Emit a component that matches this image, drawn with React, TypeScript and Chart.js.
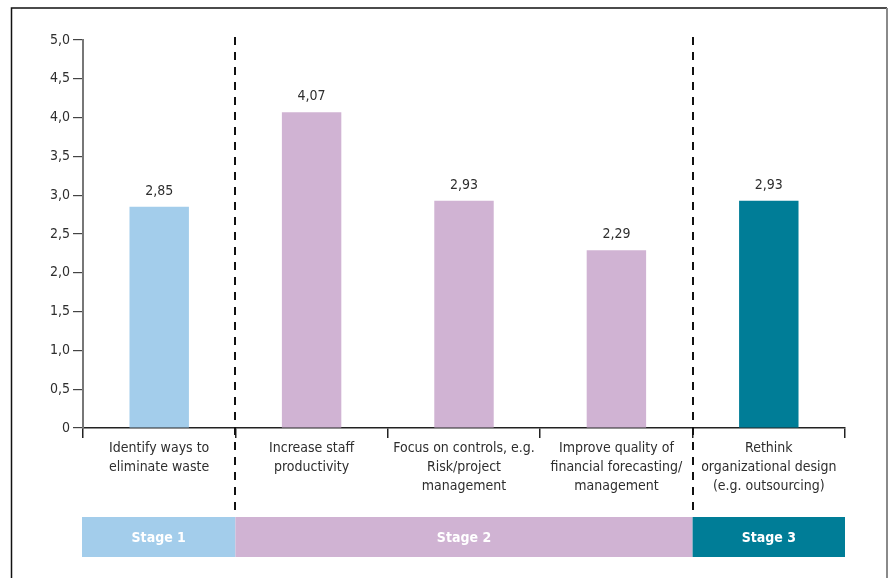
import React, { useEffect, useRef } from "react";
import { Chart, registerables } from "chart.js";

Chart.register(...registerables);

const categories: string[][] = [
  ["Identify ways to", "eliminate waste"],
  ["Increase staff", "productivity"],
  ["Focus on controls, e.g.", "Risk/project", "management"],
  ["Improve quality of", "financial forecasting/", "management"],
  ["Rethink", "organizational design", "(e.g. outsourcing)"],
];
const values = [2.85, 4.07, 2.93, 2.29, 2.93];
const categoryStage = [0, 1, 1, 1, 2];
const stageNames = ["Stage 1", "Stage 2", "Stage 3"];
const stageColors = ["#A3CDEB", "#D0B3D3", "#007D97"];
const yMin = 0;
const yMax = 5;
const yStep = 0.5;

const FONT = "'Liberation Sans Narrow', 'DejaVu Sans Condensed', sans-serif";
const TEXT = "#2e2e2e";

const fmt = (v: number, d: number) => (v === 0 ? "0" : v.toFixed(d).replace(".", ","));

const decorPlugin = {
  id: "decor",
  afterDraw(chart: any) {
    const ctx = chart.ctx as CanvasRenderingContext2D;
    const x = chart.scales.x;
    const y = chart.scales.y;
    const meta = chart.getDatasetMeta(0);
    ctx.save();
    // frame
    ctx.strokeStyle = "#111";
    ctx.lineWidth = 1.5;
    ctx.beginPath();
    ctx.moveTo(11.5, 578);
    ctx.lineTo(11.5, 8);
    ctx.lineTo(887, 8);
    ctx.stroke();
    ctx.strokeStyle = "#8a8a8a";
    ctx.lineWidth = 2;
    ctx.beginPath();
    ctx.moveTo(887, 8);
    ctx.lineTo(887, 578);
    ctx.stroke();

    // value labels
    ctx.fillStyle = TEXT;
    ctx.font = `14px ${FONT}`;
    ctx.textAlign = "center";
    ctx.textBaseline = "alphabetic";
    meta.data.forEach((bar: any, i: number) => {
      ctx.fillText(fmt(values[i], 2), bar.x, bar.y - 12);
    });

    // boundaries
    const half = (x.getPixelForValue(1) - x.getPixelForValue(0)) / 2;
    const boundary = (i: number) => {
      if (i <= 0) return x.getPixelForValue(0) - half;
      if (i >= values.length) return x.getPixelForValue(values.length - 1) + half;
      return (x.getPixelForValue(i - 1) + x.getPixelForValue(i)) / 2;
    };

    // dashed separators between stages
    ctx.strokeStyle = "#111";
    ctx.lineWidth = 2;
    ctx.setLineDash([8, 7]);
    for (let i = 1; i < values.length; i++) {
      if (categoryStage[i] !== categoryStage[i - 1]) {
        const bx = Math.round(boundary(i));
        ctx.beginPath();
        ctx.moveTo(bx, y.getPixelForValue(yMax) - 3);
        ctx.lineTo(bx, 513);
        ctx.stroke();
      }
    }
    ctx.setLineDash([]);

    // stage bands
    const top = 517;
    const h = 40;
    stageNames.forEach((name, s) => {
      const idx = categoryStage.map((c, i) => (c === s ? i : -1)).filter((i) => i >= 0);
      const x0 = boundary(idx[0]) - (s === 0 ? 1 : 0);
      const x1 = boundary(idx[idx.length - 1] + 1);
      ctx.fillStyle = stageColors[s];
      ctx.fillRect(x0, top, x1 - x0, h);
      ctx.fillStyle = "#ffffff";
      ctx.font = `bold 14px ${FONT}`;
      ctx.textBaseline = "middle";
      ctx.fillText(name, (x0 + x1) / 2, top + h / 2 + 1);
    });
    ctx.restore();
  },
};

export default function App() {
  const ref = useRef<HTMLCanvasElement>(null);
  useEffect(() => {
    document.body.style.margin = "0";
    const chart = new Chart(ref.current!, {
      type: "bar",
      data: {
        labels: categories,
        datasets: [
          {
            data: values,
            backgroundColor: categoryStage.map((s) => stageColors[s]),
            barPercentage: 0.39,
            categoryPercentage: 1,
          },
        ],
      },
      options: {
        responsive: false,
        animation: false,
        devicePixelRatio: 1,
        layout: { padding: { top: 40, right: 45, left: 0, bottom: 0 } },
        plugins: { legend: { display: false }, tooltip: { enabled: false } },
        scales: {
          x: {
            afterFit: (s: any) => {
              s.height = 150;
              s.paddingLeft = 0;
              s.paddingRight = 0;
            },
            grid: {
              display: true,
              offset: true,
              drawOnChartArea: false,
              drawTicks: true,
              tickLength: 10,
              color: "#222",
              lineWidth: 1.5,
            },
            border: { display: true, color: "#222", width: 1.5 },
            ticks: {
              color: TEXT,
              font: { family: FONT, size: 14, lineHeight: "19px" },
              padding: 1,
              maxRotation: 0,
              autoSkip: false,
            },
          },
          y: {
            min: yMin,
            max: yMax,
            afterFit: (s: any) => {
              s.width = 83;
              s.paddingTop = 0;
              s.paddingBottom = 0;
            },
            grid: {
              display: true,
              drawOnChartArea: false,
              drawTicks: true,
              tickLength: 10,
              color: "#444",
              lineWidth: 1.2,
            },
            border: { display: true, color: "#777", width: 2 },
            ticks: {
              stepSize: yStep,
              color: TEXT,
              font: { family: FONT, size: 14 },
              padding: 3,
              callback: (v: any) => fmt(Number(v), 1),
            },
          },
        },
      },
      plugins: [decorPlugin],
    });
    return () => chart.destroy();
  }, []);
  return <canvas ref={ref} width={890} height={578} style={{ display: "block" }} />;
}
